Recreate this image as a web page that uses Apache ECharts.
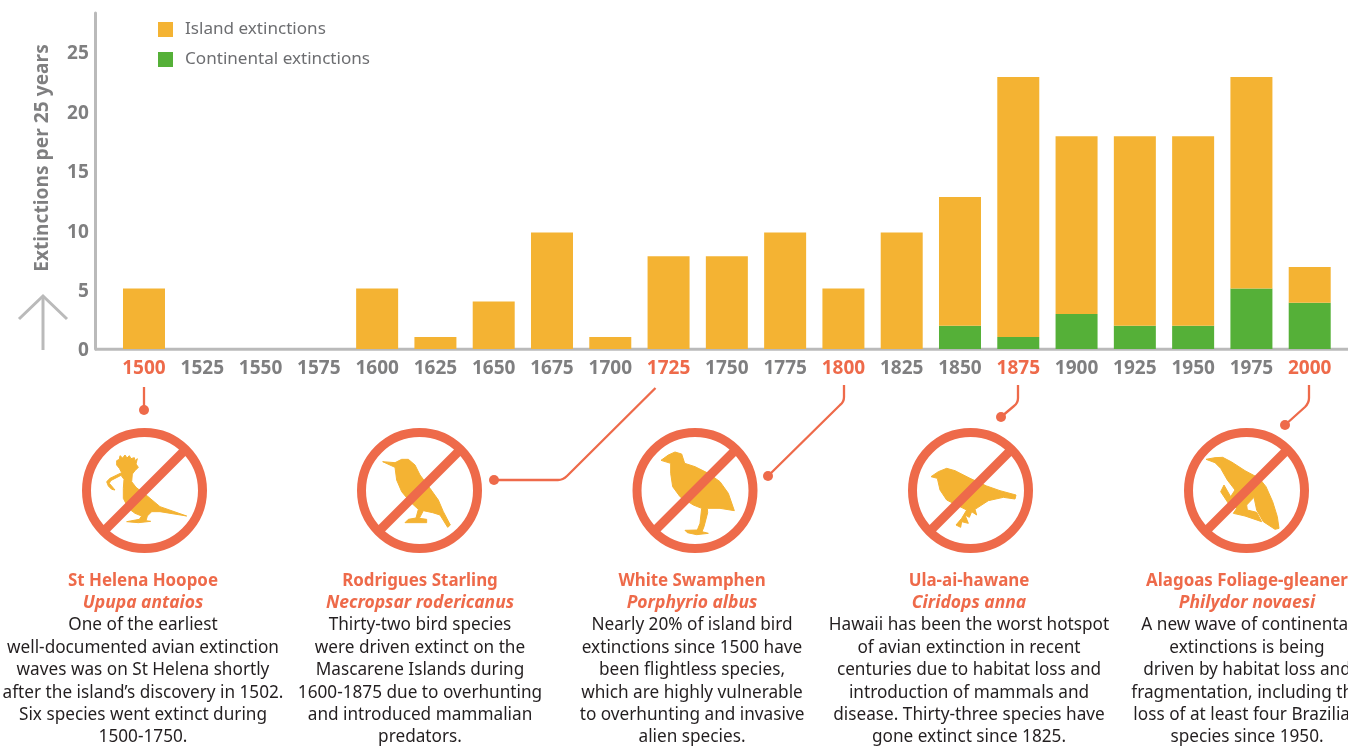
<!DOCTYPE html>
<html><head><meta charset="utf-8">
<style>html,body{margin:0;padding:0;background:#fff;overflow:hidden}#c{width:1348px;height:747px}</style>
<script src="https://cdn.jsdelivr.net/npm/echarts@6/dist/echarts.min.js"></script>
</head><body><div id="c"></div>
<script>
var years = ['1500','1525','1550','1575','1600','1625','1650','1675','1700','1725','1750','1775','1800','1825','1850','1875','1900','1925','1950','1975','2000'];
var island = [5.1,0,0,0,5.1,1,4,9.8,1,7.8,7.8,9.8,5.1,9.8,10.85,21.9,14.95,15.95,15.95,17.8,3];
var continental = [0,0,0,0,0,0,0,0,0,0,0,0,0,0,1.95,1,2.95,1.95,1.95,5.1,3.9];
var highlighted = ['1500','1725','1800','1875','2000'];
var yTitle = 'Extinctions per 25 years';
var names = ['St Helena Hoopoe','Rodrigues Starling','White Swamphen','Ula-ai-hawane','Alagoas Foliage-gleaner'];
var latin = ['Upupa antaios','Necropsar rodericanus','Porphyrio albus','Ciridops anna','Philydor novaesi'];
var blurbs = [
 ['One of the earliest','well-documented avian extinction','waves was on St Helena shortly','after the island\u2019s discovery in 1502.','Six species went extinct during','1500-1750.'],
 ['Thirty-two bird species','were driven extinct on the','Mascarene Islands during','1600-1875 due to overhunting','and introduced mammalian','predators.'],
 ['Nearly 20% of island bird','extinctions since 1500 have','been flightless species,','which are highly vulnerable','to overhunting and invasive','alien species.'],
 ['Hawaii has been the worst hotspot','of avian extinction in recent','centuries due to habitat loss and','introduction of mammals and','disease. Thirty-three species have','gone extinct since 1825.'],
 ['A new wave of continental','extinctions is being','driven by habitat loss and','fragmentation, including the','loss of at least four Brazilian','species since 1950.']
];
var FONT='"Noto Sans"', CORAL='#ee6a4a', ORANGE='#f4b333', GREEN='#55b038', GREY='#7f7f80', AXIS='#bababa';
var ringX=[144.5,419.5,695,970.5,1246.5], textX=[143,420,692,969,1247], ringY=490.5;
var birds=[
 {o:[60,390],d:'M170,212 L178,208 L180,197 L188,204 L195,195 L201,204 L208,197 L213,206 L223,203 L225,212 L232,206 L228,222 L235,232 L225,242 L217,252 L215,275 L228,292 L262,318 L300,350 L380,378 L300,365 L275,365 L262,378 L258,392 L272,394 L235,398 L200,395 L238,388 L245,378 L225,370 L205,355 L190,325 L190,295 L192,268 L183,256 L152,272 L148,280 L165,300 L155,298 L145,288 L140,275 L150,265 L185,248 L178,235 L170,225 Z'},
 {o:[60,390],d:'M968,215 L1005,218 L1025,208 L1045,208 L1065,225 L1080,255 L1110,295 L1135,330 L1150,365 L1171,405 L1163,412 L1140,375 L1118,368 L1090,362 L1078,385 L1100,388 L1100,398 L1035,398 L1045,388 L1068,384 L1075,358 L1050,335 L1025,305 L1010,270 L1005,232 Z'},
 {o:[600,380],d:'M183,241 L205,225 L225,216 L245,222 L254,250 L285,260 L325,280 L360,305 L385,340 L403,392 L360,385 L322,385 L323,398 L312,440 L306,455 L325,460 L290,464 L262,458 L255,451 L292,450 L300,430 L305,385 L280,375 L240,350 L218,320 L212,280 L212,250 Z'},
 {o:[600,380],d:'M993,290 L1015,275 L1040,265 L1065,272 L1110,295 L1160,318 L1200,332 L1248,345 L1245,357 L1210,352 L1165,362 L1125,388 L1130,405 L1115,395 L1108,412 L1095,405 L1105,430 L1085,425 L1082,442 L1068,435 L1085,415 L1100,390 L1070,375 L1040,360 L1020,330 L1012,295 Z'},
 {o:[1100,340],d:'M318,358 L345,353 L368,352 L395,366 L435,392 L478,415 L498,440 L518,485 L532,530 L537,565 L525,568 L490,545 L470,510 L462,472 L440,495 L442,510 L470,517 L485,545 L435,528 L400,520 L410,505 L385,490 L362,455 L372,435 L392,470 L405,450 L382,420 L362,385 L345,368 Z'}
];
var leaders=[
 {d:'M144,387 L144,410',dot:[144,410]},
 {d:'M655.5,388 L567,476 Q563,480 558,480 L494,480',dot:[494,480]},
 {d:'M844,385 L844,397 Q844,402 840,405 L768,476',dot:[768,476]},
 {d:'M1018,385 L1018,398 Q1018,403 1014,406 L1001,417',dot:[1001,417]},
 {d:'M1309,385 L1309,398 Q1309,403 1305,407 L1285,425',dot:[1285,425]}
];
function reg(name,d){echarts.graphic.registerShape(name,echarts.graphic.extendPath(d,{}));return name;}
var g=[];
g.push({type:'line',shape:{x1:95,y1:349.3,x2:1348,y2:349.3},style:{stroke:AXIS,lineWidth:3}});
g.push({type:'polyline',shape:{points:[[43,350],[43,297]]},style:{stroke:AXIS,lineWidth:3,fill:null}});
g.push({type:'polyline',shape:{points:[[19,319],[43,296],[67,319]]},style:{stroke:AXIS,lineWidth:3,fill:null}});
leaders.forEach(function(l,i){
 g.push({type:reg('leader'+i,l.d),style:{stroke:CORAL,lineWidth:2.3,fill:null}});
 g.push({type:'circle',shape:{cx:l.dot[0],cy:l.dot[1],r:5},style:{fill:CORAL}});
});
ringX.forEach(function(cx,i){
 g.push({type:reg('bird'+i,birds[i].d),x:birds[i].o[0],y:birds[i].o[1],scaleX:1/3,scaleY:1/3,style:{fill:ORANGE,stroke:ORANGE,lineWidth:3,lineJoin:'round'}});
 g.push({type:'circle',shape:{cx:cx,cy:ringY,r:58},style:{stroke:CORAL,lineWidth:9,fill:null}});
 g.push({type:'line',shape:{x1:cx-41,y1:ringY+41,x2:cx+41,y2:ringY-41},style:{stroke:CORAL,lineWidth:9}});
 var tx=textX[i];
 function t(s,y,font,fill){g.push({type:'text',x:tx,y:y,style:{text:s,font:font,fill:fill,align:'center',verticalAlign:'middle'}});}
 t(names[i],581,'bold 16.9px '+FONT,CORAL);
 t(latin[i],603,'italic bold 17.5px '+FONT,CORAL);
 blurbs[i].forEach(function(s,j){t(s,625.5+j*22.4,'17.2px '+FONT,'#231f20');});
});
var chart=echarts.init(document.getElementById('c'),null,{renderer:'canvas'});
chart.setOption({
 animation:false,backgroundColor:'#fff',
 textStyle:{fontFamily:FONT},
 grid:{left:114.85,top:13,width:1224,height:336,containLabel:false},
 legend:{show:true,orient:'vertical',left:153,top:16,itemWidth:15,itemHeight:15,itemGap:13,icon:'rect',
   data:['Island extinctions','Continental extinctions'],
   textStyle:{fontFamily:FONT,fontSize:17.1,color:'#6d6e71',padding:[0,0,0,7]}},
 xAxis:{type:'category',data:years,boundaryGap:true,
   axisLine:{show:false},axisTick:{show:false},
   axisLabel:{interval:0,margin:10,fontFamily:FONT,fontWeight:'bold',fontSize:19,color:GREY,
     formatter:function(v){return highlighted.indexOf(v)>=0?'{h|'+v+'}':v;},
     rich:{h:{color:CORAL,fontWeight:'bold',fontSize:19,fontFamily:FONT}}}},
 yAxis:{type:'value',min:0,max:28.28,interval:5,offset:20,
   name:yTitle,nameLocation:'middle',nameRotate:90,nameGap:43,
   nameTextStyle:{fontFamily:FONT,fontWeight:'bold',fontSize:19.2,color:GREY,padding:[0,0,0,46]},
   axisLine:{show:true,lineStyle:{color:AXIS,width:3}},axisTick:{show:false},splitLine:{show:false},
   axisLabel:{margin:6,showMaxLabel:false,formatter:'{a|{value}}',
     rich:{a:{padding:[4,0,0,0],fontFamily:FONT,fontWeight:'bold',fontSize:19,color:GREY}},
     fontFamily:FONT,fontWeight:'bold',fontSize:19,color:GREY}},
 series:[
  {name:'Continental extinctions',type:'bar',stack:'a',barWidth:42,data:continental,itemStyle:{color:GREEN}},
  {name:'Island extinctions',type:'bar',stack:'a',barWidth:42,data:island,itemStyle:{color:ORANGE}}
 ],
 graphic:{elements:g}
});
</script></body></html>
